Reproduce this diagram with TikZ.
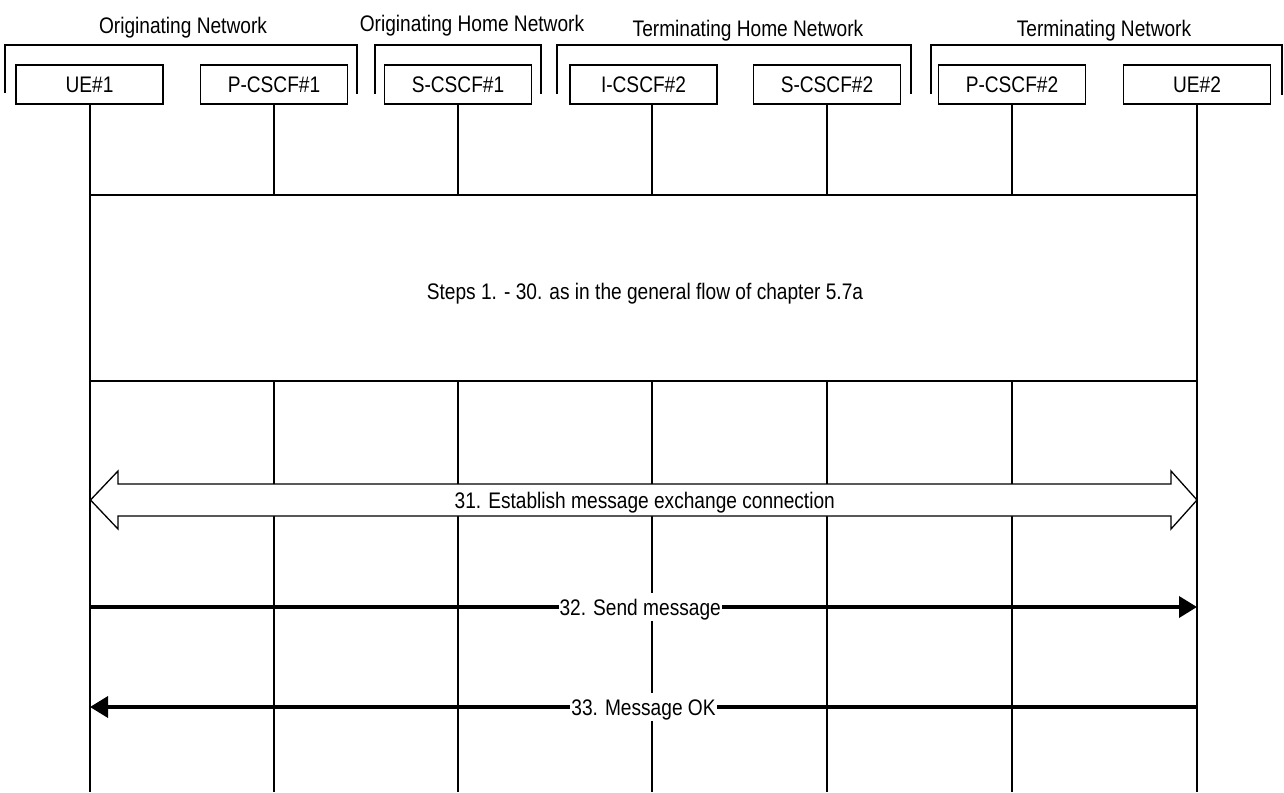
\documentclass[tikz,border=0pt]{standalone}
\usepackage{fontspec}
\setmainfont{Liberation Sans}[FakeStretch=0.85]
\usetikzlibrary{arrows.meta,calc}
\begin{document}
\begin{tikzpicture}[x=1pt,y=-1pt,
  every node/.style={font=\fontsize{22.5}{27}\selectfont},
  ent/.style={draw, line width=1.3pt, minimum width=147pt, minimum height=39pt, inner sep=0pt},
  life/.style={line width=1.3pt},
  grp/.style={line width=1.3pt},
  msg/.style={line width=3.6pt, -{Triangle[length=18pt,width=21pt]}},
  lbl/.style={fill=white, inner xsep=1pt, inner ysep=5pt, text height=17pt, text depth=1pt},
  hdr/.style={anchor=base}]
\useasboundingbox (0,0) rectangle (1284,792);
% group brackets
\draw[grp] (5,93) -- (5,45) -- (357,45) -- (357,94);
\draw[grp] (375,94) -- (375,45) -- (541,45) -- (541,94);
\draw[grp] (557,94) -- (557,45) -- (911,45) -- (911,94);
\draw[grp] (931,94) -- (931,45) -- (1282,45) -- (1282,95);
\node[hdr] (g1) at (183,34) {Originating Network};
\node[hdr] (g2) at (472,32) {Originating Home Network};
\node[hdr] (g3) at (748,37) {Terminating Home Network};
\node[hdr] (g4) at (1104,37) {Terminating Network};
% entities
\node[ent] (ue1) at (89.5,84.5) {UE\#1};
\node[ent] (pcscf1) at (274,84.5) {P-CSCF\#1};
\node[ent] (scscf1) at (458,84.5) {S-CSCF\#1};
\node[ent] (icscf2) at (643.5,84.5) {I-CSCF\#2};
\node[ent] (scscf2) at (827,84.5) {S-CSCF\#2};
\node[ent] (pcscf2) at (1012,84.5) {P-CSCF\#2};
\node[ent] (ue2) at (1197,84.5) {UE\#2};
% lifeline ends
\coordinate (ue1e) at (90,792);
\coordinate (pcscf1e) at (274,792);
\coordinate (scscf1e) at (458,792);
\coordinate (icscf2e) at (652,792);
\coordinate (scscf2e) at (827,792);
\coordinate (pcscf2e) at (1012,792);
\coordinate (ue2e) at (1197,792);
\foreach \n in {ue1,pcscf1,scscf1,icscf2,scscf2,pcscf2,ue2}
  \draw[life] (\n.south -| \n e) -- (\n e);
% steps box
\node[draw, fill=white, line width=1.5pt, minimum width=1107pt, minimum height=186pt, inner sep=0pt] (steps) at (643.5,288) {};
\node[text height=17pt, text depth=1pt] (stepstxt) at (645,291) {Steps 1. - 30. as in the general flow of chapter 5.7a};
% double arrow 31
\coordinate (dl) at (90.5,500);
\coordinate (dr) at (1197,500);
\draw[line width=1.3pt, fill=white, line join=miter]
  (dl) -- ++(27.5,-29) -- ++(0,13) -- ($(dr)+(-26,-16)$) -- ++(0,-13) -- (dr)
  -- ++(-26,29) -- ++(0,-13) -- ($(dl)+(27.5,16)$) -- ++(0,13) -- cycle;
\node[text height=17pt, text depth=1pt] (l31) at ($(dl)!0.5!(dr)+(1,0)$) {31. Establish message exchange connection};
% messages
\coordinate (s1) at (90,607);
\coordinate (s2) at (1197,607);
\draw[msg] (s1) -- (s2) node[pos=0.497, lbl] (l32) {32. Send message};
\coordinate (m1) at (1197,707);
\coordinate (m2) at (90,707);
\draw[msg] (m1) -- (m2) node[midway, lbl] (l33) {33. Message OK};
\end{tikzpicture}
\end{document}
